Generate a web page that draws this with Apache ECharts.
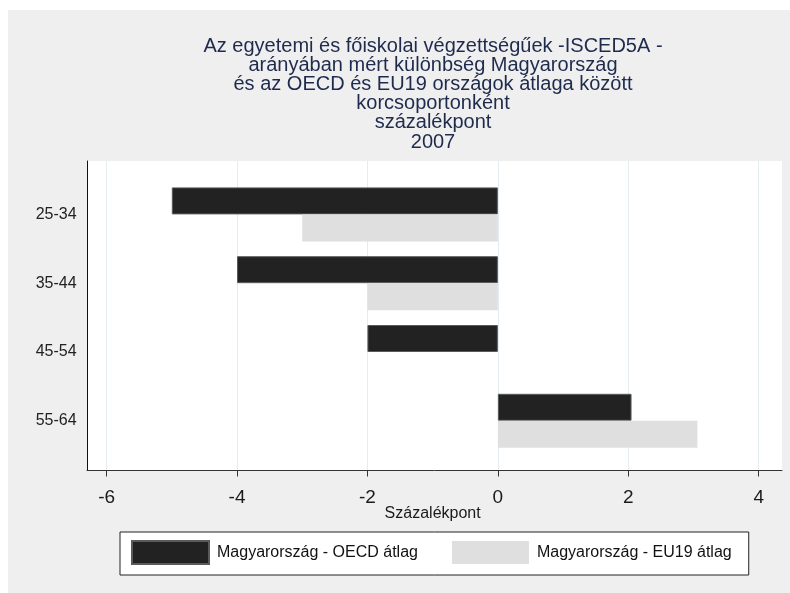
<!DOCTYPE html>
<html>
<head>
<meta charset="utf-8">
<script src="https://cdn.jsdelivr.net/npm/echarts@6/dist/echarts.min.js"></script>
<style>html,body{margin:0;padding:0;background:#fff}#c{width:790px;height:593px}</style>
</head>
<body>
<div id="c"></div>
<script>
const categories = ['25-34', '35-44', '45-54', '55-64'];
const oecdValues = [-5.0, -4.0, -2.0, 2.05];
const eu19Values = [-3.0, -2.0, 0, 3.06];
const seriesNames = ['Magyarország - OECD átlag', 'Magyarország - EU19 átlag'];
const xMin = -6, xMax = 4, xStep = 2;
const xAxisName = 'Százalékpont';
const titleLines = [
  'Az egyetemi és főiskolai végzettségűek -ISCED5A -',
  'arányában mért különbség Magyarország',
  'és az OECD és EU19 országok átlaga között',
  'korcsoportonként',
  'százalékpont',
  '2007'
];

const FONT = "'Liberation Sans', Arial, sans-serif";
const chart = echarts.init(document.getElementById('c'), null, {renderer: 'canvas'});
const plotL = 87, plotT = 161, plotR = 782, plotB = 470.5;
const innerL = 106.6, innerR = 758.7;

chart.setOption({
  backgroundColor: '#ffffff',
  animation: false,
  textStyle: {fontFamily: FONT},
  graphic: [
    {type: 'rect', z: -100, silent: true, shape: {x: 8, y: 10, width: 782, height: 583}, style: {fill: '#efefef'}}
  ],
  title: {
    text: titleLines.join('\n'),
    left: 433,
    top: 36.5,
    padding: 0,
    textAlign: 'center',
    textStyle: {fontFamily: FONT, fontSize: 20, lineHeight: 19.2, fontWeight: 'normal', color: '#1f2b4d'}
  },
  legend: {
    left: 120, top: 532,
    padding: [8, 17, 10, 11],
    itemWidth: 77, itemHeight: 23, itemGap: 34,
    icon: 'rect',
    backgroundColor: '#ffffff',
    borderColor: '#222222', borderWidth: 1,
    textStyle: {fontFamily: FONT, fontSize: 16, color: '#111111', padding: [0, 0, 0, 3]},
    data: seriesNames
  },
  grid: [
    {left: plotL, top: plotT, width: plotR - plotL, height: plotB - plotT, show: true, backgroundColor: '#ffffff', borderWidth: 0, z: -5},
    {left: innerL, top: plotT, width: innerR - innerL, height: plotB - plotT},
    {left: innerL, top: 180, width: innerR - innerL, height: 275.2}
  ],
  xAxis: [
    {gridIndex: 0, type: 'value', min: 0, max: 1,
     axisLine: {show: true, onZero: false, lineStyle: {color: '#333333', width: 1}},
     axisTick: {show: false}, axisLabel: {show: false}, splitLine: {show: false}},
    {gridIndex: 1, type: 'value', min: xMin, max: xMax, interval: xStep,
     axisLine: {show: false},
     axisTick: {show: true, length: 6, lineStyle: {color: '#333333'}},
     axisLabel: {fontFamily: FONT, fontSize: 19, color: '#1a1a1a', margin: 18},
     splitLine: {show: true, lineStyle: {color: '#e3ecee', width: 1}},
     name: xAxisName, nameLocation: 'middle', nameGap: 35, nameMoveOverlap: false,
     nameTextStyle: {fontFamily: FONT, fontSize: 16, color: '#1a1a1a'}},
    {gridIndex: 2, type: 'value', min: xMin, max: xMax, show: false}
  ],
  yAxis: [
    {gridIndex: 0, type: 'value', min: 0, max: 1,
     axisLine: {show: true, onZero: false, lineStyle: {color: '#111111', width: 1}},
     axisTick: {show: false}, axisLabel: {show: false}, splitLine: {show: false}},
    {gridIndex: 1, type: 'value', show: false},
    {gridIndex: 2, type: 'category', inverse: true, data: categories,
     axisLine: {show: false}, axisTick: {show: false}, splitLine: {show: false},
     axisLabel: {fontFamily: FONT, fontSize: 16, color: '#222222', margin: 30}}
  ],
  series: [
    {name: seriesNames[0], type: 'bar', xAxisIndex: 2, yAxisIndex: 2, data: oecdValues,
     barWidth: 27, barGap: '0%',
     itemStyle: {color: '#222222', borderColor: '#5a5a5a', borderWidth: 1}},
    {name: seriesNames[1], type: 'bar', xAxisIndex: 2, yAxisIndex: 2, data: eu19Values,
     barWidth: 27, barGap: '0%',
     itemStyle: {color: '#dfdfdf'}}
  ]
});
</script>
</body>
</html>
